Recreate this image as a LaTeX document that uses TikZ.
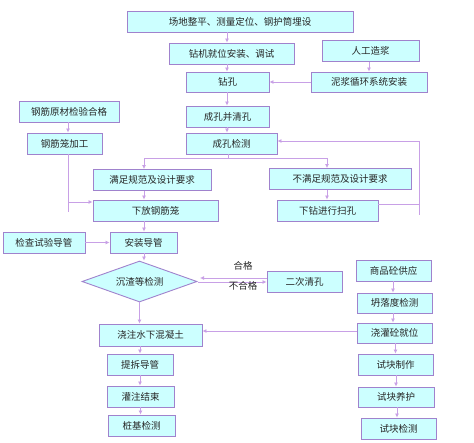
\documentclass[tikz,border=0pt]{standalone}
\usepackage{fontspec}
\setmainfont{Noto Sans CJK SC}
\usetikzlibrary{arrows.meta,shapes.geometric}
\definecolor{boxfill}{RGB}{204,255,255}
\definecolor{boxline}{RGB}{160,130,205}
\definecolor{conn}{RGB}{200,160,230}
\begin{document}
\begin{tikzpicture}[x=1pt,y=-1pt,
  box/.style={draw=boxline, fill=boxfill, line width=0.9pt, inner sep=0pt, font=\fontsize{9.5}{11}\selectfont, text=black!85},
  dia/.style={diamond, draw=boxline, fill=boxfill, line width=0.9pt, inner sep=0pt, aspect=2.8, font=\fontsize{9.5}{11}\selectfont, text=black!85},
  lbl/.style={font=\fontsize{9.5}{11}\selectfont, text=black!85, inner sep=0pt},
  arr/.style={draw=conn, line width=1pt, -{Latex[length=4pt,width=4pt]}},
  ln/.style={draw=conn, line width=1pt}]
\fill[white] (0,0) rectangle (474,442);
\useasboundingbox (0,0) rectangle (474,442);

% boxes
\node[box, minimum width=226pt, minimum height=21pt] (b1) at (240,21.5) {场地整平、测量定位、钢护筒埋设};
\node[box, minimum width=125pt, minimum height=21pt] (b2) at (231.5,53.5) {钻机就位安装、调试};
\node[box, minimum width=97pt, minimum height=21pt] (rg) at (370.5,51) {人工造浆};
\node[box, minimum width=83pt, minimum height=20pt] (zk) at (227.5,82) {钻孔};
\node[box, minimum width=116pt, minimum height=20pt] (nj) at (369,82) {泥浆循环系统安装};
\node[box, minimum width=100pt, minimum height=21pt] (gy) at (69,111.5) {钢筋原材检验合格};
\node[box, minimum width=83pt, minimum height=21pt] (cq) at (227.5,116.5) {成孔并清孔};
\node[box, minimum width=75pt, minimum height=21pt] (gj) at (64.5,143.5) {钢筋笼加工};
\node[box, minimum width=91pt, minimum height=21pt] (cj) at (231.5,143.5) {成孔检测};
\node[box, minimum width=118pt, minimum height=21pt] (mz) at (152,180) {满足规范及设计要求};
\node[box, minimum width=142pt, minimum height=21pt] (bmz) at (340,179) {不满足规范及设计要求};
\node[box, minimum width=125pt, minimum height=21pt] (xf) at (155.5,210.5) {下放钢筋笼};
\node[box, minimum width=101pt, minimum height=21pt] (xz) at (327.5,210.5) {下钻进行扫孔};
\node[box, minimum width=82pt, minimum height=21pt] (jc) at (44,242.5) {检查试验导管};
\node[box, minimum width=67pt, minimum height=21pt] (az) at (143.5,242.5) {安装导管};
\node[dia, minimum width=115pt, minimum height=41pt] (sz0) at (139.5,281.5) {沉渣等检测};
\node[box, minimum width=75pt, minimum height=21pt] (ec) at (304.5,281.5) {二次清孔};
\node[box, minimum width=75pt, minimum height=21pt] (sp) at (393.5,270.5) {商品砼供应};
\node[box, minimum width=75pt, minimum height=20pt] (tl) at (394.5,303) {坍落度检测};
\node[box, minimum width=75pt, minimum height=20pt] (jg) at (394.5,333) {浇灌砼就位};
\node[box, minimum width=103pt, minimum height=22pt] (jz) at (150.5,335) {浇注水下混凝土};
\node[box, minimum width=66pt, minimum height=21pt] (tc) at (140,364.5) {提拆导管};
\node[box, minimum width=67pt, minimum height=21pt] (gz) at (140.5,396.5) {灌注结束};
\node[box, minimum width=67pt, minimum height=21pt] (zj) at (141.5,425.5) {桩基检测};
\node[box, minimum width=75pt, minimum height=21pt] (skz) at (395.5,364.5) {试块制作};
\node[box, minimum width=76pt, minimum height=20pt] (sky) at (396,397) {试块养护};
\node[box, minimum width=75pt, minimum height=21pt] (skj) at (398.5,428.5) {试块检测};

% helper coordinates
\coordinate (colA) at (227,0);
\coordinate (colB) at (144,0);
\coordinate (colC) at (327,0);
\coordinate (split) at (228,158);
\coordinate (gjturn) at (68,202);
\coordinate (gjend) at (68,212);
\coordinate (rt) at (419,204);
\coordinate (rtend) at (419,215);
\coordinate (rttop) at (419,141);
\coordinate (dtip1) at (200,278);
\coordinate (dtip2) at (198,282);
\coordinate (colD) at (393,0);
\coordinate (colE) at (396,0);

% main column
\draw[arr] (b1.south -| colA) -- (b2.north -| colA);
\draw[arr] (b2.south -| colA) -- (zk.north -| colA);
\draw[arr] (zk.south -| colA) -- (cq.north -| colA);
\draw[arr] (cq.south -| colA) -- (cj.north -| colA);
\draw[arr] (rg.south -| nj.north) -- (nj.north);
\draw[arr] (nj.west) -- (zk.east);

% rebar
\draw[arr] (gy.south -| gjturn) -- (gj.north -| gjturn);
\draw[ln] (gj.south -| gjturn) -- (gjend);
\draw[arr] (gjturn) -- (gjturn -| xf.west);

% split
\draw[ln] (cj.south -| split) -- (split);
\draw[ln] (split -| colB) -- (split -| colC);
\draw[arr] (split -| colB) -- (mz.north -| colB);
\draw[arr] (split -| colC) -- (bmz.north -| colC);
\draw[arr] (mz.south -| colB) -- (xf.north -| colB);
\draw[arr] (bmz.south -| colC) -- (xz.north -| colC);
\draw[arr] (xz.east |- rt) -- (rt) -- (rttop) -- (rttop -| cj.east);
\draw[ln] (rt) -- (rtend);

% lower left
\draw[arr] (xf.south -| colB) -- (az.north -| colB);
\draw[arr] (jc.east) -- (az.west);
\draw[arr] (az.south -| colB) -- (sz0.north -| colB);
\draw[arr] (ec.west |- dtip1) -- (dtip1);
\draw[arr] (dtip2) -- (ec.west |- dtip2);
\node[lbl] (hg) at (243,266) {合格};
\node[lbl] (bhg) at (243,285.5) {不合格};
\draw[arr] (sz0.south) -- (sz0.south |- jz.north);
\draw[arr] (jz.south -| tc.north) -- (tc.north);
\draw[arr] (tc.south) -- (tc.south |- gz.north);
\draw[arr] (gz.south) -- (gz.south |- zj.north);

% right column
\draw[arr] (sp.south -| colD) -- (tl.north -| colD);
\draw[arr] (tl.south -| colD) -- (jg.north -| colD);
\draw[arr] (jg.west |- 0,331) -- (jz.east |- 0,331);
\draw[arr] (jg.south -| skz.north) -- (skz.north);
\draw[arr] (skz.south -| colE) -- (sky.north -| colE);
\draw[arr] (sky.south -| 397,0) -- (skj.north -| 397,0);
\end{tikzpicture}
\end{document}
